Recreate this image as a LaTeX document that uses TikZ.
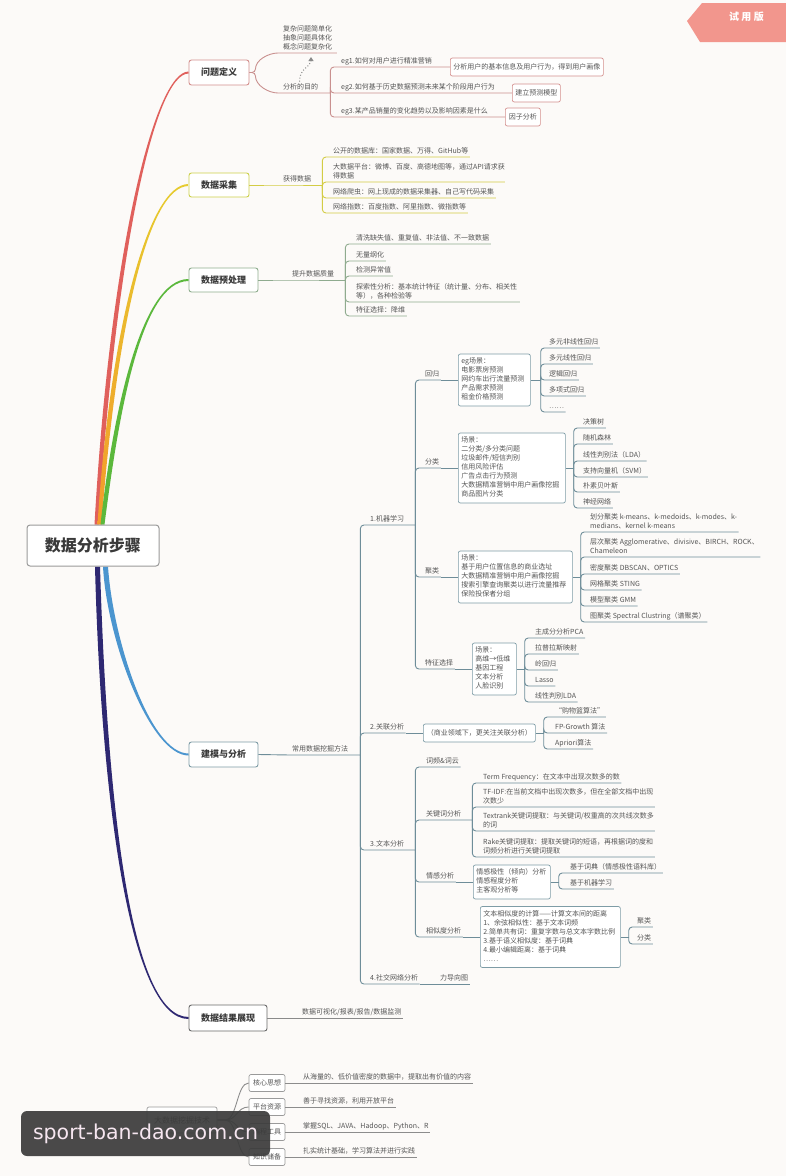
\documentclass[tikz,border=0pt]{standalone}
\usepackage{fontspec}
\setmainfont{Noto Sans CJK SC}
\newfontfamily\wmfont{DejaVu Sans}
\usetikzlibrary{arrows.meta,calc}
\pgfdeclarelayer{bgfill}
\pgfdeclarelayer{bg}
\pgfsetlayers{bgfill,bg,main}
\definecolor{cbg}{HTML}{FCFAF8}
\definecolor{ctxt}{HTML}{555555}
\definecolor{cdark}{HTML}{3A3A3A}
\definecolor{cred}{HTML}{E0605C}
\definecolor{cqb}{HTML}{D4908E}
\definecolor{cql}{HTML}{C9908F}
\definecolor{cyel}{HTML}{E6CB2E}
\definecolor{corg}{HTML}{F39B2B}
\definecolor{cyb}{HTML}{CCD04A}
\definecolor{cyl}{HTML}{D3CC45}
\definecolor{cgrn}{HTML}{5BB83C}
\definecolor{cgb}{HTML}{8FAE8F}
\definecolor{cgrl}{HTML}{8FAB8F}
\definecolor{cblu}{HTML}{4B95CF}
\definecolor{cbb}{HTML}{7E9CA6}
\definecolor{cbl}{HTML}{6E8D99}
\definecolor{cnav}{HTML}{2E2872}
\definecolor{cnb}{HTML}{6A6A6A}
\definecolor{cnl}{HTML}{8A8A8A}
\definecolor{cgray}{HTML}{9A9A9A}
\definecolor{cgryl}{HTML}{8C8C8C}
\definecolor{cwm}{HTML}{3B3B3B}
\definecolor{cwmt}{HTML}{F6E6F0}
\definecolor{ctag}{HTML}{F2968D}
\newcommand\fs{\fontsize{7}{9}\selectfont}
\newcommand\Lb[1]{\strut#1\strut}
\tikzset{
  every node/.style={inner sep=0pt, text=ctxt},
  lab/.style={anchor=south west, inner xsep=1.5pt, inner ysep=1pt, font=\fs, align=left},
  bx/.style={draw, rounded corners=2pt, fill=white, font=\fs, align=left, inner xsep=3pt, inner ysep=3.5pt, anchor=west, line width=0.7pt},
  sbx/.style={draw, rounded corners=2pt, fill=white, font=\fs, align=center, minimum height=18pt, anchor=west, line width=0.7pt},
  hb/.style={draw=cgray, rounded corners=2pt, fill=white, font=\fs, minimum width=36pt, minimum height=17pt, line width=0.7pt},
  lone/.style={draw, rounded corners=2.5pt, fill=white, line width=0.9pt, font=\bfseries\fontsize{9}{11}\selectfont, text=cdark, minimum height=25pt},
  con/.style={rounded corners=3.5pt, line width=0.9pt},
}
\begin{document}
\begin{tikzpicture}[x=1pt,y=-1pt]
\begin{pgfonlayer}{bgfill}
\fill[cbg] (0,0) rectangle (786,1176);
\end{pgfonlayer}
\useasboundingbox (0,0) rectangle (786,1176);

% ---------- root and level 1
\node[draw=cgray, fill=white, rounded corners=3pt, line width=1pt, minimum width=132pt, minimum height=41pt, font=\bfseries\fontsize{16}{18}\selectfont, text=cdark] (R) at (93,545.5) {数据分析步骤};
\node[lone, draw=cqb, minimum width=60pt] (Q1) at (219,72.5) {问题定义};
\node[lone, draw=cyb, minimum width=60pt, minimum height=24pt] (Q2) at (219,185) {数据采集};
\node[lone, draw=cgb, minimum width=69pt, minimum height=24pt] (Q3) at (223.5,280) {数据预处理};
\node[lone, draw=cbb, minimum width=69pt] (Q4) at (223.5,754.5) {建模与分析};
\node[lone, draw=cnb, minimum width=78pt, minimum height=26pt] (Q5) at (228,1018) {数据结果展现};

\begin{pgfonlayer}{bg}
\fill[cred] ([xshift=1.5pt]R.north) .. controls (110,250) and (155,71.5) .. ([yshift=1pt]Q1.west) -- ([yshift=-1pt]Q1.west) .. controls (155,73.5) and (116,250) .. ([xshift=5.5pt]R.north) -- cycle;
\shade[top color=cyel, bottom color=corg] ([xshift=4.5pt]R.north) .. controls (110,330) and (148,184) .. ([yshift=1pt]Q2.west) -- ([yshift=-1pt]Q2.west) .. controls (148,186) and (116,330) .. ([xshift=8.5pt]R.north) -- cycle;
\fill[cgrn] ([xshift=7.5pt]R.north) .. controls (112,420) and (140,279) .. ([yshift=1pt]Q3.west) -- ([yshift=-1pt]Q3.west) .. controls (140,281) and (118,420) .. ([xshift=11.5pt]R.north) -- cycle;
\fill[cblu] ([xshift=10pt]R.south) .. controls (107,640) and (150,755.5) .. ([yshift=-1pt]Q4.west) -- ([yshift=1pt]Q4.west) .. controls (150,753.5) and (113,640) .. ([xshift=15pt]R.south) -- cycle;
\fill[cnav] ([xshift=2pt]R.south) .. controls (101,800) and (130,1019) .. ([yshift=-1pt]Q5.west) -- ([yshift=1pt]Q5.west) .. controls (130,1017) and (107,800) .. ([xshift=7pt]R.south) -- cycle;
\end{pgfonlayer}

% ---------- 1 问题定义
\node[lab, text width=52pt] (G1) at (281.5,53) {\Lb{复杂问题简单化\\抽象问题具体化\\概念问题复杂化}};
\node[lab, text width=45.5pt] (FX) at (281.5,93) {\Lb{分析的目的}};
\node[lab] (E1) at (339.5,67) {\Lb{eg1.如何对用户进行精准营销}};
\node[lab] (E2) at (339.5,93) {\Lb{eg2.如何基于历史数据预测未来某个阶段用户行为}};
\node[lab] (E3) at (339.5,117) {\Lb{eg3.某产品销量的变化趋势以及影响因素是什么}};
\node[sbx, draw=cqb, minimum width=153pt] (B1) at (450,67) {分析用户的基本信息及用户行为，得到用户画像};
\node[sbx, draw=cqb, minimum width=48pt] (B2) at (512,93) {建立预测模型};
\node[sbx, draw=cqb, minimum width=35pt] (B3) at (505,117) {因子分析};
\draw[con, cql] (Q1.east) -- ++(6,0) to[out=90,in=180] (G1.south west) -- (G1.south east);
\draw[con, cql] (Q1.east) -- ++(6,0) to[out=270,in=180] (FX.south west) -- (FX.south east);
\foreach \c/\b in {E1/B1,E2/B2,E3/B3}
  \draw[con, cql] (FX.south east) |- (\c.south west) -- (\c.south east) -- (\b.west);
\draw[cnl, dotted, line width=1pt, -{Triangle[width=5pt,length=4pt]}] ([xshift=18pt]FX.north west) .. controls +(0,-14) and +(0,10) .. ([xshift=29.5pt,yshift=-4pt]G1.south west);

% ---------- 2 数据采集
\node[lab, text width=37.5pt] (G2) at (281.5,185) {\Lb{获得数据}};
\node[lab] (D1) at (331.5,157) {\Lb{公开的数据库：国家数据、万得、GitHub等}};
\node[lab, text width=170pt] (D2) at (331.5,182) {\Lb{\mbox{大数据平台：微博、百度、高德地图等，通过API请求获}\\得数据}};
\node[lab] (D3) at (331.5,198) {\Lb{网络爬虫：网上现成的数据采集器、自己写代码采集}};
\node[lab] (D4) at (331.5,213) {\Lb{网络指数：百度指数、阿里指数、微指数等}};
\draw[con, cyl] (Q2.east) -- (G2.south west) -- (G2.south east);
\foreach \c in {D1,D2,D3,D4}
  \draw[con, cyl] (G2.south east) |- (\c.south west) -- (\c.south east);

% ---------- 3 数据预处理
\node[lab, text width=51.5pt] (G3) at (290.5,280) {\Lb{提升数据质量}};
\node[lab] (P1) at (354.5,244) {\Lb{清洗缺失值、重复值、非法值、不一致数据}};
\node[lab] (P2) at (354.5,261) {\Lb{无量纲化}};
\node[lab] (P3) at (354.5,276) {\Lb{检测异常值}};
\node[lab, text width=162pt] (P4) at (354.5,302) {\Lb{\mbox{探索性分析：基本统计特征（统计量、分布、相关性}\\等），各种检验等}};
\node[lab] (P5) at (354.5,316) {\Lb{特征选择：降维}};
\draw[con, cgrl] (Q3.east) -- (G3.south west) -- (G3.south east);
\foreach \c in {P1,P2,P3,P4,P5}
  \draw[con, cgrl] (G3.south east) |- (\c.south west) -- (\c.south east);

% ---------- 4 建模与分析
\node[lab, text width=66.5pt] (M0) at (290.5,755) {\Lb{常用数据挖掘方法}};
\node[lab, text width=43.5pt] (ML) at (368.5,525) {\Lb{1.机器学习}};
\node[lab] (AS) at (368.5,733) {\Lb{2.关联分析}};
\node[lab, text width=43.5pt] (TA) at (368.5,850) {\Lb{3.文本分析}};
\node[lab] (SN) at (368.5,984) {\Lb{4.社交网络分析}};
\node[lab] (FD) at (438.5,984) {\Lb{力导向图}};
\draw[con, cbl] (Q4.east) -- (M0.south west) -- (M0.south east);
\foreach \c in {ML,AS,TA,SN}
  \draw[con, cbl] (M0.south east) |- (\c.south west) -- (\c.south east);
\draw[con, cbl] (SN.south east) -- (FD.south west) -- (FD.south east);

% 1.机器学习
\node[lab] (R0) at (423.5,380) {\Lb{回归}};
\node[lab] (K0) at (423.5,468) {\Lb{分类}};
\node[lab] (J0) at (423.5,577) {\Lb{聚类}};
\node[lab] (F0) at (423.5,669) {\Lb{特征选择}};
\foreach \c in {R0,K0,J0,F0}
  \draw[con, cbl] (ML.south east) |- (\c.south west) -- (\c.south east);

\node[bx, draw=cbb, text width=66pt] (RB) at (458,380) {\Lb{eg场景：\\电影票房预测\\网约车出行流量预测\\产品需求预测\\租金价格预测}};
\draw[con, cbl] (R0.south east) -- (RB.west);
\node[lab] (r1) at (547.5,348) {\Lb{多元非线性回归}};
\node[lab] (r2) at (547.5,364) {\Lb{多元线性回归}};
\node[lab] (r3) at (547.5,380) {\Lb{逻辑回归}};
\node[lab] (r4) at (547.5,396) {\Lb{多项式回归}};
\node[lab] (r5) at (547.5,412) {\Lb{……}};
\draw[con, cbl] (RB.east) -- ++(10,0);
\foreach \c in {r1,r2,r3,r4,r5}
  \draw[con, cbl] ([xshift=10pt]RB.east) |- (\c.south west) -- (\c.south east);

\node[bx, draw=cbb, text width=101pt] (KB) at (458,468) {\Lb{场景：\\二分类/多分类问题\\垃圾邮件/短信判别\\信用风险评估\\广告点击行为预测\\大数据精准营销中用户画像挖掘\\商品图片分类}};
\draw[con, cbl] (K0.south east) -- (KB.west);
\node[lab] (k1) at (581.5,428) {\Lb{决策树}};
\node[lab] (k2) at (581.5,444) {\Lb{随机森林}};
\node[lab] (k3) at (581.5,461) {\Lb{线性判别法（LDA）}};
\node[lab] (k4) at (581.5,477) {\Lb{支持向量机（SVM）}};
\node[lab] (k5) at (581.5,492) {\Lb{朴素贝叶斯}};
\node[lab] (k6) at (581.5,508) {\Lb{神经网络}};
\draw[con, cbl] (KB.east) -- ++(8,0);
\foreach \c in {k1,k2,k3,k4,k5,k6}
  \draw[con, cbl] ([xshift=8pt]KB.east) |- (\c.south west) -- (\c.south east);

\node[bx, draw=cbb, text width=108pt] (JB) at (458,577) {\Lb{场景：\\基于用户位置信息的商业选址\\大数据精准营销中用户画像挖掘\\搜索引擎查询聚类以进行流量推荐\\保险投保者分组}};
\draw[con, cbl] (J0.south east) -- (JB.west);
\node[lab] (j1) at (588.5,532) {\Lb{划分聚类 k-means、k-medoids、k-modes、k-\\medians、kernel k-means}};
\node[lab] (j2) at (588.5,557) {\Lb{层次聚类 Agglomerative、divisive、BIRCH、ROCK、\\Chameleon}};
\node[lab] (j3) at (588.5,574) {\Lb{密度聚类 DBSCAN、OPTICS}};
\node[lab] (j4) at (588.5,590) {\Lb{网格聚类 STING}};
\node[lab] (j5) at (588.5,606) {\Lb{模型聚类 GMM}};
\node[lab] (j6) at (588.5,622) {\Lb{图聚类 Spectral Clustring（谱聚类）}};
\draw[con, cbl] (JB.east) -- ++(8,0);
\foreach \c in {j1,j2,j3,j4,j5,j6}
  \draw[con, cbl] ([xshift=8pt]JB.east) |- (\c.south west) -- (\c.south east);

\node[bx, draw=cbb, text width=38pt] (FB) at (472,669) {\Lb{场景：\\高维→低维\\基因工程\\文本分析\\人脸识别}};
\draw[con, cbl] (F0.south east) -- (FB.west);
\node[lab] (f1) at (533.5,638) {\Lb{主成分分析PCA}};
\node[lab] (f2) at (533.5,654) {\Lb{拉普拉斯映射}};
\node[lab] (f3) at (533.5,670) {\Lb{岭回归}};
\node[lab] (f4) at (533.5,686) {\Lb{Lasso}};
\node[lab] (f5) at (533.5,702) {\Lb{线性判别LDA}};
\draw[con, cbl] (FB.east) -- ++(8,0);
\foreach \c in {f1,f2,f3,f4,f5}
  \draw[con, cbl] ([xshift=8pt]FB.east) |- (\c.south west) -- (\c.south east);

% 2.关联分析
\node[sbx, draw=cbb, minimum width=112pt] (AB) at (423,733) {（商业领域下，更关注关联分析）};
\draw[con, cbl] (AS.south east) -- (AB.west);
\node[lab] (a1) at (553.5,717) {\Lb{“购物篮算法”}};
\node[lab] (a2) at (553.5,733) {\Lb{FP-Growth 算法}};
\node[lab] (a3) at (553.5,749) {\Lb{Apriori算法}};
\draw[con, cbl] (AB.east) -- ++(8,0);
\foreach \c in {a1,a2,a3}
  \draw[con, cbl] ([xshift=8pt]AB.east) |- (\c.south west) -- (\c.south east);

% 3.文本分析
\node[lab] (W0) at (424.5,767) {\Lb{词频\&词云}};
\node[lab, text width=44.5pt] (KW) at (424.5,820) {\Lb{关键词分析}};
\node[lab] (EM) at (424.5,882) {\Lb{情感分析}};
\node[lab] (SM) at (424.5,937) {\Lb{相似度分析}};
\foreach \c in {W0,KW,EM,SM}
  \draw[con, cbl] (TA.south east) |- (\c.south west) -- (\c.south east);

\node[lab] (kw1) at (481.5,783) {\Lb{Term Frequency：在文本中出现次数多的数}};
\node[lab, text width=170pt] (kw2) at (481.5,807) {\Lb{\mbox{TF-IDF:在当前文档中出现次数多，但在全部文档中出现}\\次数少}};
\node[lab, text width=170pt] (kw3) at (481.5,831) {\Lb{\mbox{Textrank关键词提取：与关键词/权重高的次共线次数多}\\的词}};
\node[lab, text width=170pt] (kw4) at (481.5,857) {\Lb{\mbox{Rake关键词提取：提取关键词的短语，再根据词的度和}\\词频分析进行关键词提取}};
\foreach \c in {kw1,kw2,kw3,kw4}
  \draw[con, cbl] (KW.south east) |- (\c.south west) -- (\c.south east);

\node[bx, draw=cbb, text width=71pt] (EB) at (473,882) {\Lb{情感极性（倾向）分析\\情感程度分析\\主客观分析等}};
\draw[con, cbl] (EM.south east) -- (EB.west);
\node[lab] (e1) at (568.5,873) {\Lb{基于词典（情感极性语料库）}};
\node[lab] (e2) at (568.5,889) {\Lb{基于机器学习}};
\draw[con, cbl] (EB.east) -- ++(8,0);
\foreach \c in {e1,e2}
  \draw[con, cbl] ([xshift=8pt]EB.east) |- (\c.south west) -- (\c.south east);

\node[bx, draw=cbb, text width=134pt] (SB) at (480,937) {\Lb{文本相似度的计算——计算文本间的距离\\1、余弦相似性：基于文本词频\\2.简单共有词：重复字数与总文本字数比例\\3.基于语义相似度：基于词典\\4.最小编辑距离：基于词典\\……}};
\draw[con, cbl] (SM.south east) -- (SB.west);
\node[lab] (s1) at (635.5,927) {\Lb{聚类}};
\node[lab] (s2) at (635.5,944) {\Lb{分类}};
\draw[con, cbl] (SB.east) -- ++(8,0);
\foreach \c in {s1,s2}
  \draw[con, cbl] ([xshift=8pt]SB.east) |- (\c.south west) -- (\c.south east);

% ---------- 5 数据结果展现
\node[lab] (V0) at (300.5,1018) {\Lb{数据可视化/报表/报告/数据监测}};
\draw[con, cnl] (Q5.east) -- (V0.south west) -- (V0.south east);

% ---------- bottom group
\node[draw=cgray, fill=white, rounded corners=2pt, line width=0.7pt, minimum width=70pt, minimum height=26pt, font=\fontsize{8}{10}\selectfont] (BB) at (182,1120) {大数据挖掘技术};
\node[hb] (H1) at (267,1083) {核心思想};
\node[hb] (H2) at (267,1107) {平台资源};
\node[hb] (H3) at (267,1132) {编程工具};
\node[hb] (H4) at (267,1157) {知识储备};
\node[lab] (T1) at (301.5,1083) {\Lb{从海量的、低价值密度的数据中，提取出有价值的内容}};
\node[lab] (T2) at (301.5,1107) {\Lb{善于寻找资源，利用开放平台}};
\node[lab] (T3) at (301.5,1132) {\Lb{掌握SQL、JAVA、Hadoop、Python、R}};
\node[lab] (T4) at (301.5,1157) {\Lb{扎实统计基础，学习算法并进行实践}};
\foreach \h/\t in {H1/T1,H2/T2,H3/T3,H4/T4}{
  \draw[con, cgryl] (\h.east) -- (\t.south west) -- (\t.south east);
  \draw[cgryl, line width=0.9pt] (BB.east) -- ++(8,0) .. controls +(12,0) and +(-12,0) .. (\h.west);
}

% ---------- watermarks
\fill[ctag] (687,21) -- (702,3) -- (786,3) -- (786,42) -- (700,42) -- cycle;
\node[text=white, font=\bfseries\fontsize{10}{11}\selectfont] (TG) at (746.5,17) {试~用~版};
\node[fill=cwm, fill opacity=0.92, text opacity=1, rounded corners=6pt, minimum width=249pt, minimum height=45pt, text=cwmt, font=\wmfont\fontsize{20.5}{22}\selectfont] (WM) at (145.5,1133.5) {sport-ban-dao.com.cn};
\end{tikzpicture}
\end{document}
